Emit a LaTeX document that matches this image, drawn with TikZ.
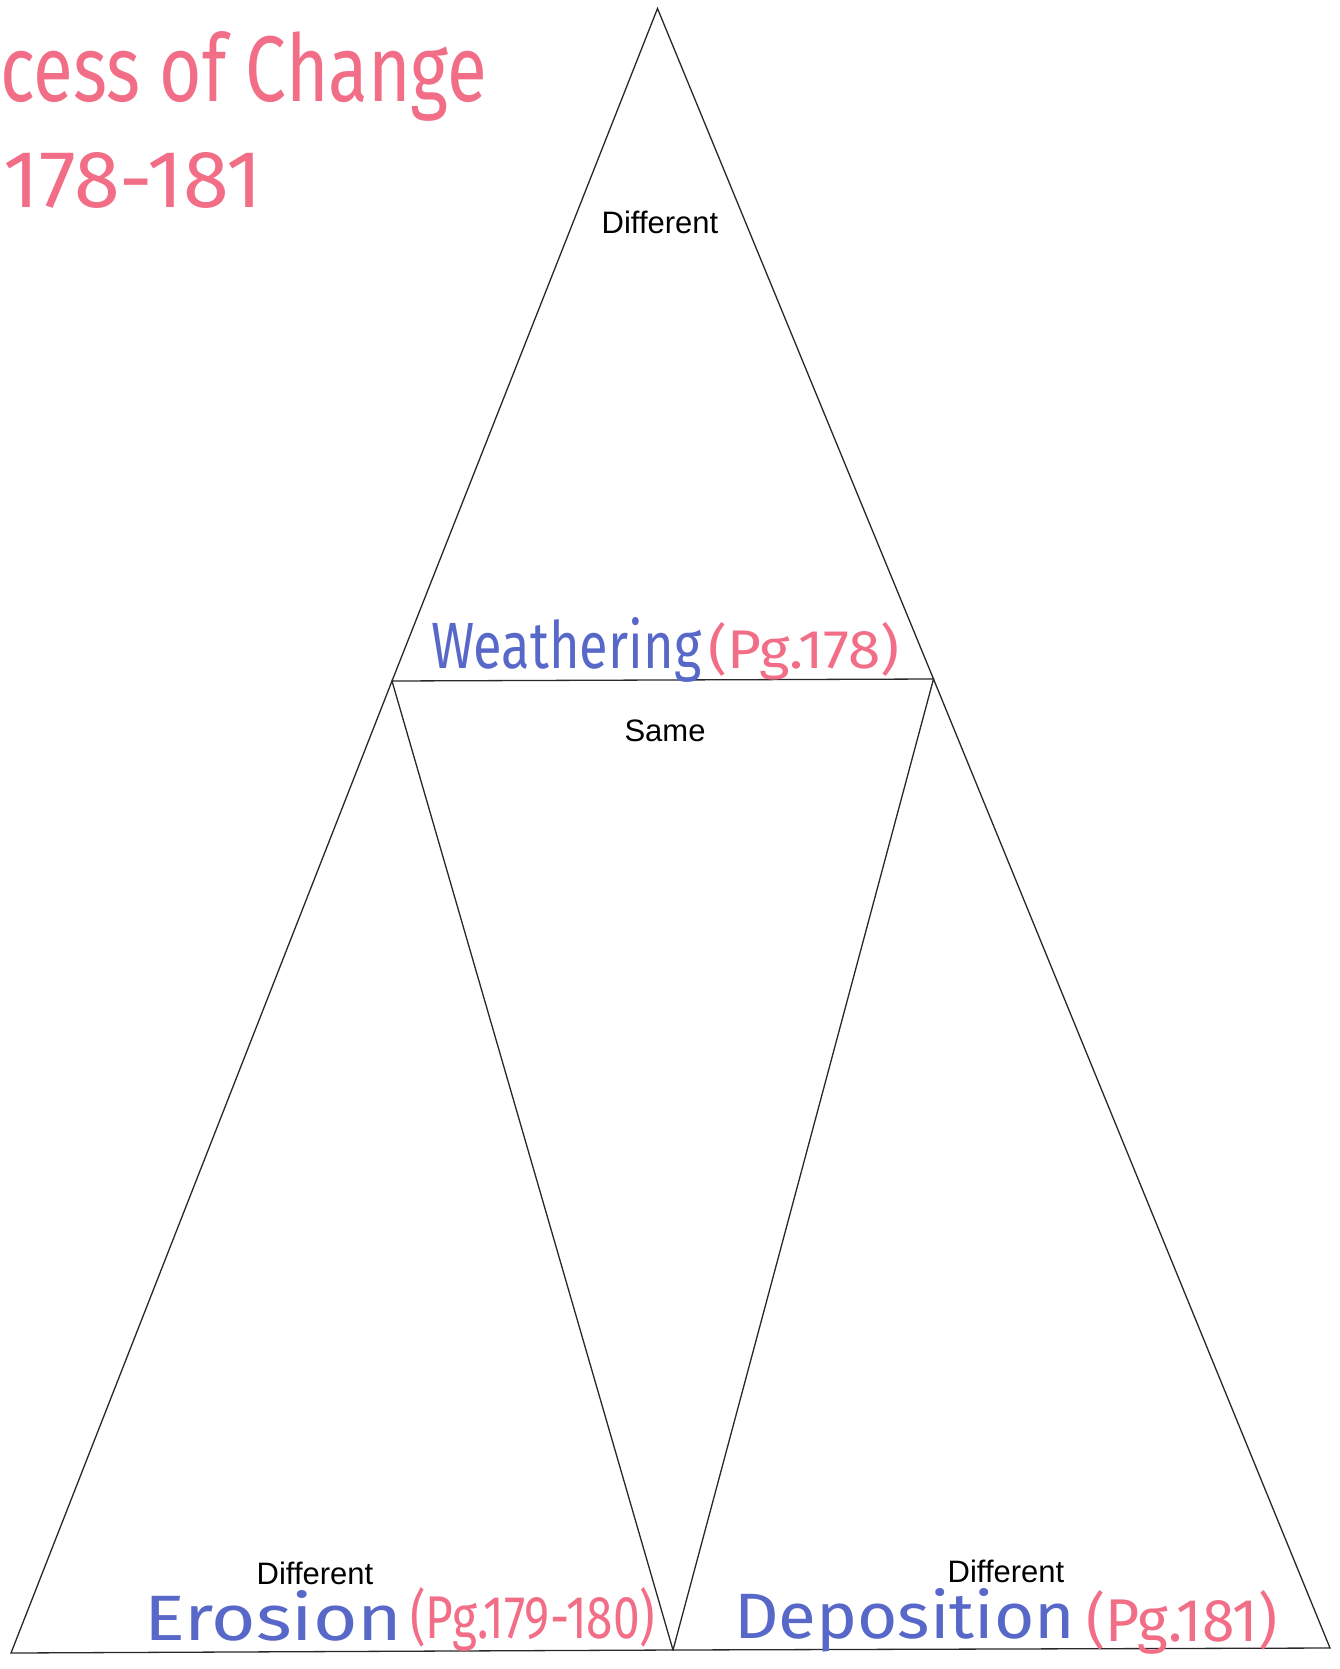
\documentclass[tikz,border=0pt]{standalone}
\usepackage{fontspec}
\usepackage{graphicx}
\setmainfont{Liberation Sans}
\newfontfamily\handfont{Fira Sans}
\definecolor{inkblue}{RGB}{88,104,200}
\definecolor{inkpink}{RGB}{242,110,135}
\definecolor{lineink}{RGB}{40,40,40}
\begin{document}
\begin{tikzpicture}[x=1pt,y=-1pt,
  edge/.style={draw=lineink,line width=1.3pt,line join=miter},
  printed/.style={font=\fontsize{31}{31}\selectfont,text=black,inner sep=0pt,anchor=base},
  hand/.style={font=\handfont,inner sep=0pt,anchor=base west},
  blueink/.style={hand,text=inkblue},
  pinkink/.style={hand,text=inkpink}]
\useasboundingbox[fill=white] (0,0) rectangle (1340,1669);
% vertices
\coordinate (apex) at (657.5,8.5);
\coordinate (lm) at (392,681);
\coordinate (rm) at (933.5,679);
\coordinate (bl) at (11,1653);
\coordinate (bm) at (673,1650);
\coordinate (br) at (1330,1648);
% triangles
\draw[edge] (apex) -- (lm) -- (rm) -- cycle;
\draw[edge] (lm) -- (bl) -- (bm) -- cycle;
\draw[edge] (rm) -- (bm) -- (br) -- cycle;
% printed labels
\node[printed] (dtop) at (660,234) {Different};
\node[printed] (same) at (665,741) {Same};
\node[printed] (dleft) at (315,1584) {Different};
\node[printed] (dright) at (1006,1582) {Different};
% handwritten title
\node[pinkink] (title1) at (0,102) {\resizebox{487pt}{70pt}{cess of Change}};
\node[pinkink] (title2) at (3,208) {\resizebox{259pt}{55pt}{178-181}};
% handwritten labels
\node[blueink] (weath) at (431,668) {\resizebox{270pt}{51pt}{Weathering}};
\node[pinkink] (weathpg) at (708,668) {\resizebox{191pt}{46pt}{(Pg.178)}};
\node[blueink] (eros) at (144,1640) {\resizebox{258pt}{50pt}{Erosion}};
\node[pinkink] (erospg) at (410,1638) {\resizebox{245pt}{51pt}{(Pg.179-180)}};
\node[blueink] (depo) at (734,1638) {\resizebox{341pt}{50pt}{Deposition}};
\node[pinkink] (depopg) at (1086,1641) {\resizebox{191pt}{51pt}{(Pg.181)}};
\end{tikzpicture}
\end{document}
